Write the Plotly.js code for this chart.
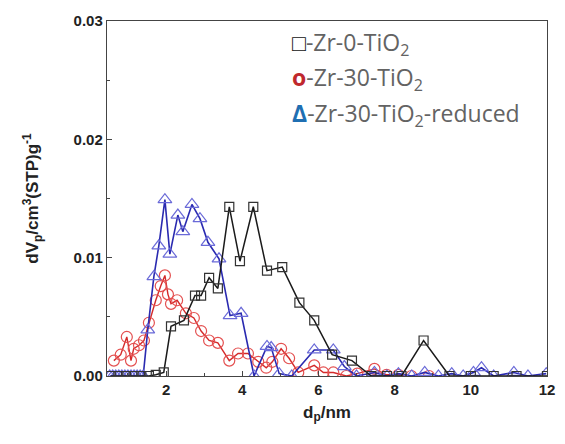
<!DOCTYPE html>
<html><head><meta charset="utf-8">
<script src="https://cdn.plot.ly/plotly-3.0.1.min.js"></script>
<style>html,body{margin:0;padding:0;background:#fff}#chart{width:565px;height:444px}</style>
</head><body><div id="chart"></div>
<script>
// Zr-0-TiO2 (black squares)
const x_zr0 = [0.55,0.75,0.95,1.15,1.35,1.55,1.73,1.94,2.13,2.47,2.76,2.92,3.13,3.36,3.66,3.94,4.29,4.65,5.05,5.50,5.89,6.36,6.88,7.39,7.80,8.18,8.76,9.44,10.0,10.6,11.2,12.0];
const y_zr0 = [0,0,0,0,0,0,0.0001,0.0003,0.0042,0.0047,0.0068,0.0068,0.0083,0.0074,0.0143,0.0097,0.0143,0.0089,0.0092,0.0062,0.0047,0.0018,0.0013,0,0,0,0.0030,0,0,0,0,0];

// Zr-30-TiO2 (red circles)
const x_zr30 = [0.63,0.81,0.97,1.08,1.15,1.29,1.42,1.55,1.73,1.86,1.97,2.05,2.13,2.29,2.52,2.73,2.92,3.13,3.36,3.66,3.89,4.15,4.42,4.63,4.79,5.02,5.23,5.47,5.89,6.13,6.39,6.73,7.02,7.47,7.79,8.10,8.44,8.9];
const y_zr30 = [0.0013,0.0018,0.0033,0.0013,0.0023,0.0026,0.0030,0.0045,0.0064,0.0076,0.0085,0.0069,0.0061,0.0064,0.0053,0.0049,0.0038,0.0030,0.0028,0.0013,0.0019,0.0019,0.0012,0.0007,0.0012,0.0023,0.0015,0.0003,0.0009,0.0003,0.0003,0,0.0002,0.0006,0.0001,0.0001,0,0];

// Zr-30-TiO2-reduced (blue triangles)
const x_zr30r = [0.52,0.60,0.68,0.76,0.84,0.92,1.00,1.08,1.16,1.24,1.32,1.40,1.52,1.68,1.81,1.97,2.10,2.31,2.44,2.68,2.89,3.10,3.39,3.68,3.97,4.31,4.65,4.76,4.97,5.30,5.89,6.39,6.68,7.00,7.47,7.80,8.10,8.45,8.79,9.15,9.50,9.80,10.07,10.28,10.60,11.13,11.50,11.98];
const y_zr30r = [0,0,0,0,0,0,0,0,0,0,0,0,0.0039,0.0084,0.0110,0.0149,0.0103,0.0136,0.0122,0.0145,0.0133,0.0113,0.0099,0.0051,0.0053,0,0.0025,0.0024,0.0002,0,0.0022,0.0022,0.0008,0,0.0003,0,0.0002,0,0.0003,0,0.0002,0,0.0003,0.0007,0,0.0003,0,0.0002];

const yTicks = [0, 0.01, 0.02, 0.03];
const yTickText = ['0.00','0.01','0.02','0.03'];
const xTicks = [2,4,6,8,10,12];

const traces = [
  {x:x_zr30, y:y_zr30, mode:'lines+markers', name:'Zr-30-TiO2',
   line:{color:'#d42a2a', width:1.4},
   marker:{symbol:'circle-open', size:11, color:'#e45050', line:{width:1.2}}},
  {x:x_zr30r, y:y_zr30r, mode:'lines+markers', name:'Zr-30-TiO2-reduced',
   line:{color:'#2a2ab0', width:1.6},
   marker:{symbol:'triangle-up-open', size:12, color:'#6a6ad8', line:{width:1.2}}},
  {x:x_zr0, y:y_zr0, mode:'lines+markers', name:'Zr-0-TiO2',
   line:{color:'#1a1a1a', width:1.5},
   marker:{symbol:'square-open', size:9, color:'#333333', line:{width:1.2}}}
];

const legFont = {family:'Open Sans', size:23, color:'#636363'};
const layout = {
  width:565, height:444,
  margin:{l:107, r:18, t:21, b:68},
  paper_bgcolor:'#fff', plot_bgcolor:'#fff',
  showlegend:false,
  font:{family:'Liberation Sans, Arial', color:'#111'},
  xaxis:{range:[0.45,12], tickvals:xTicks, ticks:'inside', ticklen:5, tickwidth:1,
         showline:true, linecolor:'#444', linewidth:1.2, mirror:true, showgrid:false, zeroline:false,
         tickfont:{size:15, family:'Liberation Sans', weight:'bold', color:'#222'},
         minor:{tickvals:[1,3,5,7,9,11], ticks:'inside', ticklen:3, tickcolor:'#444'},
         title:{text:'<b>d<sub>p</sub>/nm</b>', font:{size:17, family:'Liberation Sans', color:'#222'}, standoff:8}},
  yaxis:{range:[0,0.03], tickvals:yTicks, ticktext:yTickText, ticks:'inside', ticklen:5, tickwidth:1,
         showline:true, linecolor:'#444', linewidth:1.2, mirror:true, showgrid:false, zeroline:false,
         tickfont:{size:15, family:'Liberation Sans', weight:'bold', color:'#222'},
         minor:{tickvals:[0.005,0.015,0.025], ticks:'inside', ticklen:3, tickcolor:'#444'},
         title:{text:'<b>dV<sub>p</sub>/cm<sup>3</sup>(STP)g<sup>-1</sup></b>', font:{size:17, family:'Liberation Sans', color:'#222'}, standoff:30}},
  annotations:[
    {xref:'paper', yref:'paper', x:0.415, y:0.937, xanchor:'left', yanchor:'middle', showarrow:false, font:legFont,
     text:'<span style="color:#111">□</span>-Zr-0-TiO<sub>2</sub>'},
    {xref:'paper', yref:'paper', x:0.415, y:0.837, xanchor:'left', yanchor:'middle', showarrow:false, font:legFont,
     text:'<span style="color:#c0282d"><b>o</b></span>-Zr-30-TiO<sub>2</sub>'},
    {xref:'paper', yref:'paper', x:0.415, y:0.737, xanchor:'left', yanchor:'middle', showarrow:false, font:legFont,
     text:'<span style="color:#1f6fb2"><b>Δ</b></span>-Zr-30-TiO<sub>2</sub>-reduced'}
  ]
};
Plotly.newPlot('chart', traces, layout, {displayModeBar:false, staticPlot:true});
</script></body></html>
